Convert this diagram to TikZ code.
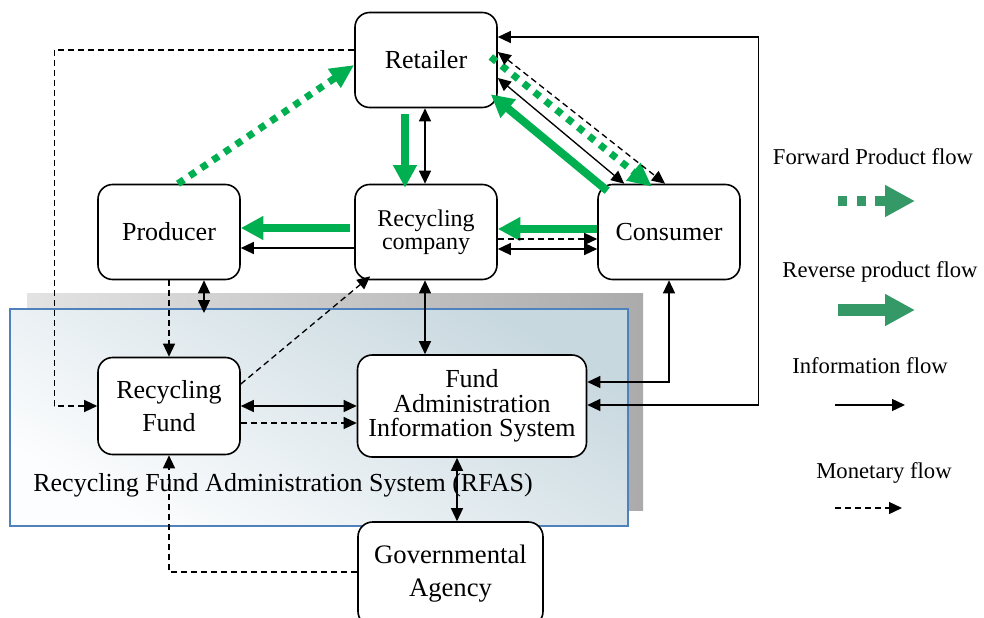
\documentclass[tikz,border=0pt]{standalone}
\usepackage{fontspec}
\setmainfont{Liberation Serif}
\usetikzlibrary{arrows.meta,calc}

\definecolor{revgreen}{RGB}{0,176,80}
\definecolor{keygreen}{RGB}{52,153,102}
\definecolor{rfasblue}{RGB}{79,129,189}
\definecolor{rfaslight}{RGB}{252,253,254}
\definecolor{rfasdark}{RGB}{200,216,223}

\tikzset{every picture/.style={line width=0.75pt}}
\tikzset{
  box/.style={draw,line width=1.2pt,rounded corners=11pt,fill=white,align=center,inner sep=0pt,
    minimum width=106.5pt,minimum height=71.25pt,font=\fontsize{19.5}{24.75}\selectfont},
  info/.style={line width=1pt,->},
  money/.style={line width=1pt,dash pattern=on 4.5pt off 3pt,->},
  fwd/.style={revgreen,line width=5.25pt,dash pattern=on 5.25pt off 5.25pt,-{Triangle[length=18pt,width=16pt]}},
  rev/.style={revgreen,line width=6pt,-{Triangle[length=17pt,width=17pt]}},
  keytext/.style={font=\fontsize{17}{17}\selectfont},
  keyfwd/.style={keygreen,line width=7pt,dash pattern=on 7pt off 7pt,-{Triangle[length=22.5pt,width=22.5pt]}},
  keyrev/.style={keygreen,line width=9pt,-{Triangle[length=22.5pt,width=22.5pt]}},
}

\begin{document}
\begin{tikzpicture}[x=0.75pt,y=0.75pt,yscale=-1,xscale=1,>={Triangle[length=9.75pt,width=9pt]}]
	\useasboundingbox (0,0) rectangle (984,617);

	%RFAS background
	\fill [left color=gray!22,right color=gray!66] (27,293) rectangle (643,510);
	\shade [top color=rfasdark,bottom color=rfaslight,shading angle=-30] (10,309) rectangle (628,526);
	\draw [rfasblue,line width=1.2pt] (10,309) rectangle (628,526);
	% Text Node
	\node [font=\fontsize{19.5}{19.5}\selectfont] (rfas) at (283,485) {Recycling Fund Administration System (RFAS)};

	% Boxes
	\node [box] (ret) at (426,60) {Retailer};
	\node [box] (prod) at (169,232) {Producer};
	\node [box,font=\fontsize{18}{17.5}\selectfont] (rc) at (426,232) {Recycling\\company};
	\node [box] (cons) at (669,232) {Consumer};
	\node [box,minimum height=72.75pt] (rf) at (169,406) {Recycling\\Fund};
	\node [box,minimum width=171.75pt,minimum height=76.5pt,font=\fontsize{19.5}{18.5}\selectfont] (fais) at (472,406) {Fund\\Administration\\Information System};
	\node [box,minimum width=138.75pt,minimum height=78pt,font=\fontsize{20}{24.75}\selectfont] (ga) at (450.5,574) {Governmental\\Agency};
	\coordinate (pdrop) at (204,313);

	%Product flows
	\draw [fwd] ($(prod.north)+(9,0)$) -- ($(ret.west)+(0,5)$);
	\draw [fwd] ($(ret.east)+(-7,-3)$) -- ($(cons.north)+(-17,3)$);
	\draw [rev] ($(ret.south)+(-21,6)$) -- ($(rc.north)+(-21,4)$);
	\draw [rev] ($(rc.west)+(-4,-4)$) -- ($(prod.east)+(0,-4)$);
	\draw [rev] ($(cons.west)+(0,-3)$) -- ($(rc.east)+(0,-3)$);
	\draw [rev] ($(cons.north west)+(10,7)$) -- ($(ret.south east)+(-7,-14)$);

	%Information flows
	\draw [info,<->] ($(ret.south)+(-1,0)$) -- ($(rc.north)+(-1,0)$);
	\draw [info] ($(rc.west)+(0,16)$) -- ($(prod.east)+(0,16)$);
	\draw [info,<->] ($(rc.east)+(0,17)$) -- ($(cons.west)+(0,17)$);
	\draw [info,<->] ($(ret.east)+(0,18)$) -- ($(cons.north west)+(27,0)$);
	\draw [info,<->] ($(ret.east)+(0,-23)$) -- ++(261,0) |- ($(fais.east)+(0,-1)$);
	\draw [info,<->] (cons.south) |- ($(fais.east)+(0,-24)$);
	\draw [info,<->] ($(rc.south)+(-1,0)$) -- ($(fais.north)+(-47,0)$);
	\draw [info,<->] ($(prod.south)+(35,0)$) -- (pdrop);
	\draw [info,<->] (rf.east) -- (fais.west);
	\draw [info,<->] ($(fais.south)+(-15,0)$) -- ($(ga.north)+(6.5,0)$);

	%Monetary flows
	\draw [money,<->] ($(ret.east)+(0,-8)$) -- ($(cons.north)+(-4,0)$);
	\draw [money] ($(rc.east)+(0,7)$) -- ($(cons.west)+(0,7)$);
	\draw [money] ($(ret.west)+(0,-10)$) -| ($(rf.west)+(-43,0)$) -- (rf.west);
	\draw [money] (prod.south) -- (rf.north);
	\draw [money] ($(rf.east)+(0,-22)$) -- ($(rc.south west)+(16,-4)$);
	\draw [money] ($(rf.east)+(0,17)$) -- ($(fais.west)+(0,17)$);
	\draw [money] ($(ga.west)+(0,-2)$) -| (rf.south);

	% Legend
	\node [keytext] (lfwd) at (873,157) {Forward Product flow};
	\draw [keyfwd] ($(lfwd)+(-35,44)$) -- ++(77,0);
	\node [keytext] (lrev) at (880,272) {Reverse product flow};
	\draw [keyrev] ($(lrev)+(-42,38)$) -- ++(77,0);
	\node [keytext] (linfo) at (870,366) {Information flow};
	\draw [info] ($(linfo)+(-35,39)$) -- ++(70,0);
	\node [keytext] (lmon) at (884,473) {Monetary flow};
	\draw [money] ($(lmon)+(-49,35)$) -- ++(67,0);

\end{tikzpicture}
\end{document}
